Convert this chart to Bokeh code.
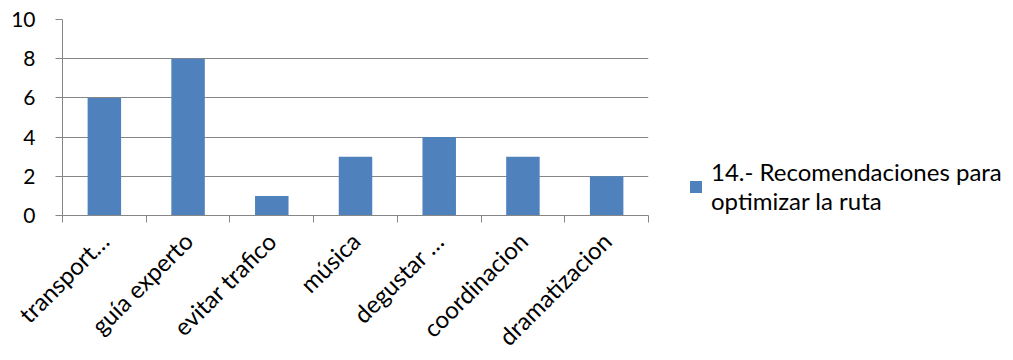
import math
from bokeh.plotting import figure
from bokeh.models import Range1d, FixedTicker, Legend, LegendItem, ColumnDataSource
from bokeh.embed import file_html
from bokeh.resources import INLINE

categories = ["transport…", "guía experto", "evitar trafico", "música",
              "degustar …", "coordinacion", "dramatizacion"]
values = [6, 8, 1, 3, 4, 3, 2]
series_name = "14.- Recomendaciones para\noptimizar la ruta"
y_ticks = [0, 2, 4, 6, 8, 10]

FONT = "Lato"
GRAY = "#868686"
BLUE = "#4F81BD"

n = len(categories)
centers = [i + 0.5 for i in range(n)]
src = ColumnDataSource(dict(x=centers, top=values))

p = figure(width=1013, height=358, frame_width=586, frame_height=196,
           x_range=Range1d(0, n), y_range=Range1d(0, 10),
           output_backend="svg", toolbar_location=None,
           min_border_left=62, min_border_right=365,
           min_border_top=19, min_border_bottom=143)

r = p.vbar(x="x", top="top", width=0.4, source=src, fill_color=BLUE, line_color=None)

p.outline_line_color = None
p.xgrid.visible = False
p.ygrid.grid_line_color = GRAY
p.ygrid.grid_line_width = 1

xa = p.xaxis[0]
xa.ticker = FixedTicker(ticks=centers, minor_ticks=list(range(n + 1)))
xa.major_label_overrides = {c: lab for c, lab in zip(centers, categories)}
xa.major_tick_out = 0
xa.major_tick_in = 0
xa.minor_tick_out = 7
xa.minor_tick_in = 0
xa.minor_tick_line_color = GRAY
xa.axis_line_color = GRAY
xa.major_label_orientation = math.pi / 4
xa.major_label_text_font = FONT
xa.major_label_text_font_size = "24px"
xa.major_label_text_color = "black"
xa.major_label_standoff = 14

ya = p.yaxis[0]
ya.ticker = FixedTicker(ticks=y_ticks)
ya.major_tick_out = 7
ya.major_tick_in = 0
ya.minor_tick_line_color = None
ya.major_tick_line_color = GRAY
ya.axis_line_color = GRAY
ya.major_label_text_font = FONT
ya.major_label_text_font_size = "21px"
ya.major_label_text_color = "black"
ya.major_label_standoff = 20

legend = Legend(items=[LegendItem(label=series_name, renderers=[r])],
                location=(40, 0), orientation="vertical",
                border_line_color=None, background_fill_alpha=0,
                label_text_font=FONT, label_text_font_size="24px",
                label_text_color="black", label_text_baseline="top",
                glyph_width=15, glyph_height=15, padding=0, margin=0,
                label_standoff=8, label_text_line_height=1.15)
p.add_layout(legend, "right")

open("out.html", "w").write(file_html(p, INLINE))
